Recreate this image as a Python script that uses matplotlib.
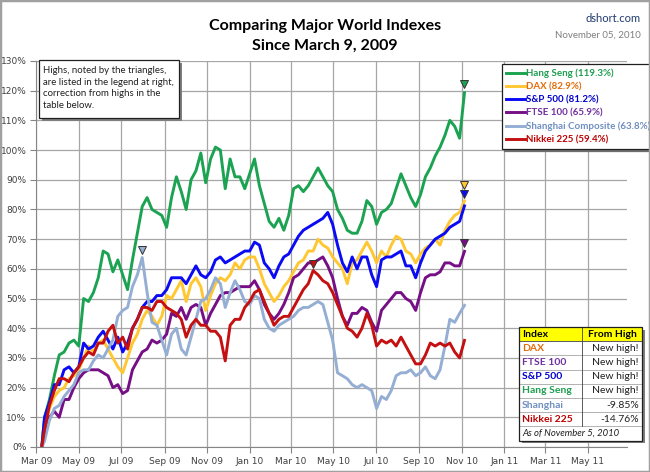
#!/usr/bin/env python3
"""Comparing major world indexes since the March 9, 2009 low."""

import pandas as pd
import matplotlib
matplotlib.use('Agg')
import matplotlib.pyplot as plt
import matplotlib.dates as mdates
from matplotlib.patches import Rectangle
from matplotlib.transforms import offset_copy

# Weekly closes (Fridays), % change since Mar 9, 2009
start_date = '2009-03-09'
end_date = '2010-11-05'

hang_seng = [0,
  10, 16, 24, 31, 32, 35, 36, 34, 50, 49, 52, 57, 66, 65, 59, 63, 58, 53, 63, 72, 81, 84, 80, 79, 78,
  74, 84, 91, 86, 80, 90, 93, 99, 89, 97, 101, 100, 87, 97, 91, 91, 87, 92, 97, 88,
  82, 76, 74, 77, 73, 78, 87, 88, 86, 88, 91, 94, 91, 88, 86, 80, 77, 73, 72, 72, 76, 83, 81,
  75, 79, 80, 82, 87, 92, 88, 84, 81, 85, 91, 94, 98, 101, 105, 110, 108, 104, 119.3]

dax = [0,
  7, 13, 17, 19, 20, 23, 24, 26, 30, 34, 32, 35, 36, 33, 30, 27, 25, 30, 35, 38, 43, 46, 44, 41, 44,
  51, 50, 53, 56, 49, 55, 57, 54, 46, 51, 55, 57, 56, 58, 62, 60, 63, 64, 64, 60,
  55, 52, 49, 51, 54, 56, 59, 62, 63, 66, 66, 70, 68, 67, 64, 62, 60, 55, 62, 63, 66, 69, 66,
  62, 66, 64, 68, 71, 70, 66, 65, 62, 65, 67, 68, 70, 68, 73, 76, 78, 79, 82.9]

sp500 = [0,
  10, 15, 21, 21, 26, 27, 25, 27, 35, 33, 34, 37, 39, 36, 33, 37, 32, 35, 40, 43, 47, 49, 49, 51, 51,
  53, 57, 57, 57, 55, 58, 61, 58, 57, 59, 63, 64, 62, 63, 64, 65, 66, 66, 69, 68,
  62, 60, 57, 61, 64, 65, 68, 71, 73, 74, 75, 76, 77, 79, 75, 68, 62, 59, 64, 60, 64, 64, 58,
  54, 63, 64, 64, 65, 66, 61, 61, 57, 62, 66, 68, 70, 71, 72, 74, 75, 76, 81.2]

ftse = [0,
  5, 10, 12, 10, 16, 16, 20, 23, 25, 26, 26, 26, 25, 24, 20, 21, 18, 19, 26, 29, 32, 33, 36, 35, 36,
  38, 45, 44, 47, 43, 47, 48, 47, 41, 45, 48, 51, 52, 52, 53, 54, 54, 54, 56, 53,
  48, 45, 43, 45, 48, 52, 57, 58, 60, 62, 62, 63, 64, 61, 57, 50, 44, 41, 45, 45, 47, 46, 42,
  39, 46, 48, 50, 52, 52, 50, 49, 46, 52, 57, 58, 58, 59, 62, 62, 61, 61, 65.9]

shanghai = [0,
  2, 9, 13, 14, 17, 19, 21, 25, 26, 26, 29, 31, 30, 33, 36, 44, 46, 47, 54, 58, 63.8, 52, 42, 41, 36,
  31, 38, 40, 33, 31, 37, 43, 49, 50, 53, 57, 55, 47, 52, 56, 53, 49, 48, 51, 50,
  43, 40, 39, 41, 42, 43, 44, 46, 47, 47, 48, 49, 48, 42, 36, 25, 24, 23, 21, 20, 21, 20, 19,
  13, 17, 16, 19, 24, 25, 25, 26, 24, 25, 27, 24, 23, 26, 34, 43, 42, 45, 47.7]

nikkei = [0,
  6, 14, 19, 23, 23, 22, 25, 27, 30, 32, 31, 35, 35, 39, 41, 35, 37, 33, 40, 43, 47, 47, 46, 49, 49,
  47, 46, 45, 43, 37, 41, 43, 41, 41, 39, 39, 37, 29, 41, 43, 43, 47, 49, 52, 53,
  49, 45, 41, 43, 44, 44, 47, 50, 53, 55, 59.4, 58, 56, 55, 52, 48, 44, 40, 39, 37, 40, 45, 41,
  34, 36, 35, 36, 34, 37, 34, 31, 28, 28, 31, 35, 34, 35, 34, 35, 32, 30, 35.9]

names = ['Hang Seng', 'DAX', 'S&P 500', 'FTSE 100', 'Shanghai Composite', 'Nikkei 225']
highs = [119.3, 82.9, 81.2, 65.9, 63.8, 59.4]

table_names = ['DAX', 'FTSE 100', 'S&P 500', 'Hang Seng', 'Shanghai', 'Nikkei 225']
table_values = ['New high!', 'New high!', 'New high!', 'New high!', '-9.85%', '-14.76%']

W, H = 650, 472


def fx(x):
  return x / W


def fy(y):
  return 1 - y / H


def draw_table(fig):
  colors = {
    'DAX': '#E36C09', 'FTSE 100': '#7030A0', 'S&P 500': '#0000CC',
    'Hang Seng': '#1E9E50', 'Shanghai': '#6F8FC0', 'Nikkei 225': '#C00000',
  }
  left, right, mid, top, row_h = 519, 642, 582, 327, 14.2
  n_rows = len(table_names) + 2
  bottom = top + n_rows * row_h

  # shadow + background
  fig.add_artist(Rectangle((fx(left + 2.5), fy(bottom + 2.5)), (right - left) / W,
                           (bottom - top) / H, transform=fig.transFigure,
                           fc='#7F7F7F', ec='none', zorder=9))
  fig.add_artist(Rectangle((fx(left), fy(bottom)), (right - left) / W, (bottom - top) / H,
                           transform=fig.transFigure, fc='white', ec='none', zorder=10))
  fig.add_artist(Rectangle((fx(left), fy(top + row_h)), (right - left) / W, row_h / H,
                           transform=fig.transFigure, fc='#FFFF00', ec='none', zorder=10))

  # grid lines
  for i in range(1, n_rows):
    y = fy(top + i * row_h)
    c = '#404040' if i == 1 else '#A6A6A6'
    fig.add_artist(plt.Line2D([fx(left), fx(right)], [y, y], transform=fig.transFigure,
                              color=c, lw=0.6, zorder=11))
  fig.add_artist(plt.Line2D([fx(mid), fx(mid)], [fy(top), fy(bottom - row_h)],
                            transform=fig.transFigure, color='#404040', lw=0.6, zorder=11))
  fig.add_artist(Rectangle((fx(left), fy(bottom)), (right - left) / W, (bottom - top) / H,
                           transform=fig.transFigure, fc='none', ec='#202020', lw=0.9, zorder=12))

  def row_y(i):
    return fy(top + (i + 0.5) * row_h)

  fig.text(fx(left + 3), row_y(0), 'Index', ha='left', va='center', fontsize=7.5,
           fontweight='bold', zorder=13)
  fig.text(fx((mid + right) / 2), row_y(0), 'From High', ha='center', va='center',
           fontsize=7.5, fontweight='bold', zorder=13)
  for i, (name, val) in enumerate(zip(table_names, table_values)):
    fig.text(fx(left + 3), row_y(i + 1), name, ha='left', va='center', fontsize=7.5,
             fontweight='bold', color=colors[name], zorder=13)
    fig.text(fx(right - 3), row_y(i + 1), val, ha='right', va='center', fontsize=7.5,
             color='#202020', zorder=13)
  fig.text(fx(left + 3), row_y(n_rows - 1), 'As of November 5, 2010', ha='left', va='center',
           fontsize=6.8, style='italic', color='#202020', zorder=13)


def draw_note(fig):
  left, right, top, bottom = 39, 179, 60, 118
  fig.add_artist(Rectangle((fx(left + 2.5), fy(bottom + 2.5)), (right - left) / W,
                           (bottom - top) / H, transform=fig.transFigure,
                           fc='#7F7F7F', ec='none', zorder=9))
  fig.add_artist(Rectangle((fx(left), fy(bottom)), (right - left) / W, (bottom - top) / H,
                           transform=fig.transFigure, fc='white', ec='#202020', lw=0.9,
                           zorder=10))
  note = ('Highs, noted by the triangles,\nare listed in the legend at right,\n'
          'correction from highs in the\ntable below.')
  fig.text(fx(left + 4), fy(top + 6), note, ha='left', va='top', fontsize=6.9,
           linespacing=1.38, color='#202020', zorder=11)


def main():
  plt.rcParams['font.family'] = ['Lato', 'DejaVu Sans']

  dates = [pd.Timestamp(start_date)] + list(pd.date_range('2009-03-13', end_date, freq='W-FRI'))
  series = [hang_seng, dax, sp500, ftse, shanghai, nikkei]
  line_colors = ['#1BA352', '#FFC732', '#0A0AF5', '#760F86', '#95AED3', '#C41010']
  text_colors = ['#1E9E50', '#E36C09', '#0000CC', '#7030A0', '#6F8FC0', '#C00000']
  marker_offsets = [9, 16, 12, 8, 8, 7]  # pixels above the high

  fig = plt.figure(figsize=(W / 100, H / 100), dpi=100)
  ax = fig.add_axes([fx(36.2), fy(447), (627 - 36.2) / W, (447 - 61) / H])

  for name, high, values, color in zip(names, highs, series, line_colors):
    ax.plot(dates, values, color=color, lw=2.1, label=f'{name} ({high:.1f}%)')

  # triangles over each high
  for values, color, off in zip(series, line_colors, marker_offsets):
    i = max(range(len(values)), key=lambda k: values[k])
    tr = offset_copy(ax.transData, fig=fig, x=0, y=off, units='dots')
    ax.plot([dates[i]], [values[i]], marker='v', ms=6, color=color, mec='#333333',
            mew=0.7, transform=tr, zorder=5)

  ax.set_xlim(pd.Timestamp('2009-03-01'), pd.Timestamp('2011-06-26'))
  ax.set_ylim(0, 130)
  ax.set_yticks(range(0, 131, 10))
  ax.set_yticklabels([f'{v}%' for v in range(0, 131, 10)])
  ax.xaxis.set_major_locator(mdates.MonthLocator(bymonth=[1, 3, 5, 7, 9, 11]))
  ax.xaxis.set_major_formatter(mdates.DateFormatter('%b %y'))

  ax.grid(True, color='#A6A6A6', lw=0.9)
  ax.set_axisbelow(True)
  for side in ['top', 'right']:
    ax.spines[side].set_visible(False)
  for side in ['left', 'bottom']:
    ax.spines[side].set_color('#868686')
  ax.tick_params(length=4, color='#868686', labelcolor='#404040', labelsize=6.5, pad=3)
  for lab in ax.get_xticklabels() + ax.get_yticklabels():
    lab.set_family('DejaVu Sans')

  leg = ax.legend(loc='upper left', bbox_to_anchor=(fx(501.7), fy(64)),
                  bbox_transform=fig.transFigure, prop={'weight': 'bold', 'size': 7},
                  frameon=True, fancybox=False, shadow={'color': '#6F6F6F', 'alpha': 1},
                  handlelength=1.9, handletextpad=0.15, labelspacing=0.42,
                  borderpad=0.45, borderaxespad=0)
  leg.get_frame().set_edgecolor('#202020')
  leg.get_frame().set_linewidth(0.9)
  for text, c in zip(leg.get_texts(), text_colors):
    text.set_color(c)

  draw_note(fig)
  draw_table(fig)

  fig.text(fx(325), fy(36), 'Comparing Major World Indexes\nSince March 9, 2009', ha='center',
           va='center', fontsize=11.5, fontweight='bold', linespacing=1.5)
  fig.text(fx(641), fy(18), 'dshort.com', ha='right', va='center', fontsize=8,
           color='#1F3A6E')
  fig.text(fx(641), fy(35), 'November 05, 2010', ha='right', va='center', fontsize=7,
           color='#7F7F7F')

  # outer border
  fig.add_artist(Rectangle((0, 0), 1, 1, transform=fig.transFigure, fc='none',
                           ec='#A0A0A0', lw=2.5))

  fig.savefig('out.png', dpi=100)


if __name__ == '__main__':
  main()
